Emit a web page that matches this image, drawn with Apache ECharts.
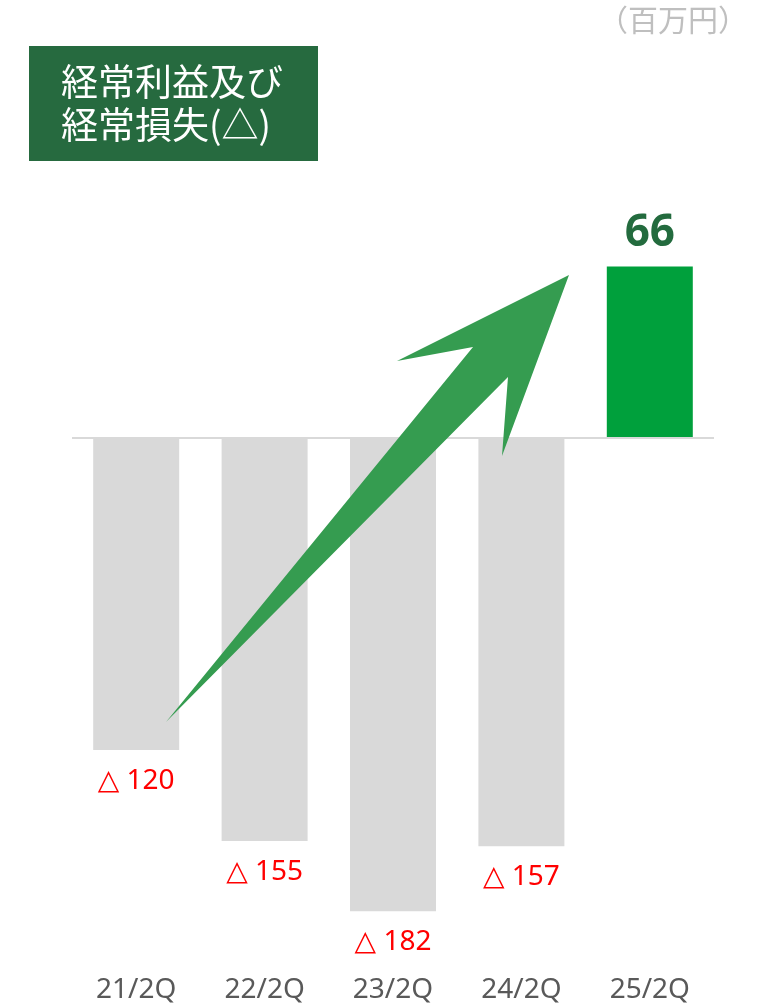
<!DOCTYPE html>
<html lang="ja">
<head>
    <meta charset="utf-8">
    <title>経常利益及び経常損失</title>
    <script src="https://cdn.jsdelivr.net/npm/echarts@6.0.0/dist/echarts.min.js"></script>
    <style>
        html, body { margin: 0; padding: 0; background: #fff; }
    </style>
</head>
<body>
    <div id="chart" style="width:757px; height:1008px;"></div>

<script type="text/javascript">
// データ（百万円）
var categories = ['21/2Q', '22/2Q', '23/2Q', '24/2Q', '25/2Q'];
var values = [-120, -155, -182, -157, 66];

var titleLines = ['経常利益及び', '経常損失(△)'];
var unitText = '（百万円）';

var FONT = "'Noto Sans', 'DejaVu Sans', 'Noto Sans CJK JP', sans-serif";

var myChart = echarts.init(document.getElementById('chart'));

// 各バーの色・ラベル
var barData = values.map(function (v) {
    if (v < 0) {
        return {
            value: v,
            itemStyle: { color: '#d9d9d9' },
            label: {
                position: 'bottom', distance: 17,
                color: '#ff0000', fontSize: 28
            }
        };
    }
    return {
        value: v,
        itemStyle: { color: '#00a03c' },
        label: {
            position: 'top', distance: 11,
            color: '#236b3e', fontSize: 44, fontWeight: 'bold'
        }
    };
});

// 矢印（装飾）: 先端 → 右かえし → 右付け根 → 尾 → 左付け根 → 左かえし
var arrowPoints = [
    [569, 275], [502, 456], [508, 377],
    [166, 722],
    [473, 347], [397, 361]
];

myChart.setOption({
    animation: false,
    grid: {
        left: 72, right: 43, top: 178, bottom: 50,
        containLabel: false
    },
    xAxis: {
        type: 'category',
        data: categories,
        axisLine: { show: false },
        axisTick: { show: false },
        axisLabel: {
            margin: 18,
            color: '#595959',
            fontSize: 28,
            fontFamily: FONT
        }
    },
    yAxis: {
        type: 'value',
        min: -200, max: 100, interval: 100,
        show: false,
        splitLine: { show: false }
    },
    series: [{
        type: 'bar',
        data: barData,
        barWidth: 86,
        label: {
            show: true,
            fontFamily: FONT,
            formatter: function (p) {
                return p.value < 0 ? '△ ' + (-p.value) : String(p.value);
            }
        },
        markLine: {
            silent: true,
            symbol: 'none',
            label: { show: false },
            lineStyle: { color: '#d9d9d9', width: 2, type: 'solid' },
            data: [{ yAxis: 0 }]
        }
    }],
    graphic: [
        {
            type: 'polygon',
            z: 100,
            shape: { points: arrowPoints },
            style: { fill: '#359c50' }
        },
        {
            type: 'rect',
            left: 29, top: 46,
            shape: { width: 289, height: 115 },
            style: { fill: '#266a3f' }
        },
        {
            type: 'text',
            left: 61, top: 60,
            style: {
                text: titleLines.join('\n'),
                fill: '#ffffff',
                font: "37px 'Noto Sans CJK JP'",
                lineHeight: 43
            }
        },
        {
            type: 'text',
            right: 9, top: 5,
            style: {
                text: unitText,
                fill: '#bfbfbf',
                font: "30px 'Noto Sans CJK JP'"
            }
        }
    ]
});
</script>
</body>
</html>
